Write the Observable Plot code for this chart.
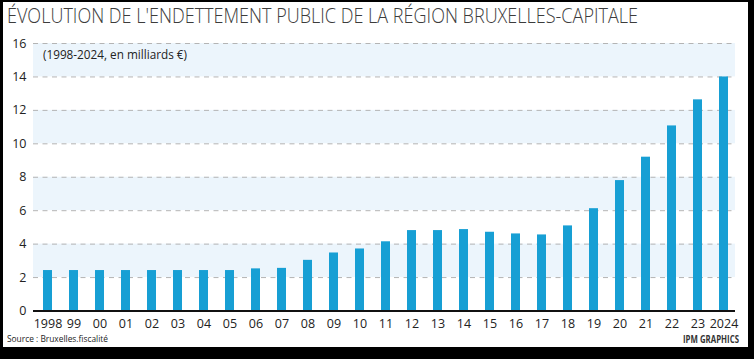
<!DOCTYPE html>
<html>
<head>
<meta charset="utf-8">
<script src="https://cdn.jsdelivr.net/npm/d3@7"></script>
<script src="https://cdn.jsdelivr.net/npm/@observablehq/plot@0.6"></script>
<style>
  html, body { margin: 0; padding: 0; background: #000; }
  #wrap { position: relative; width: 754px; height: 359px; overflow: hidden; background: #000; }
  #paper { position: absolute; left: 3px; top: 2px; width: 745px; height: 345px; background: #fff; }
  #chart { position: absolute; left: 0; top: 0; }
  .txt { position: absolute; white-space: nowrap; line-height: 1; font-family: "Open Sans", sans-serif; transform-origin: 0 0; display: inline-block; }
  #title { left: 7px; top: 4.5px; font-size: 21px; color: #3c3c3c; font-weight: 300; }
  #subtitle { left: 43px; top: 48.8px; font-size: 12px; color: #222; }
  #source { left: 7px; top: 333.5px; font-size: 9.5px; color: #222; }
  #credit { top: 334px; font-size: 10px; color: #333; font-weight: 700; }
</style>
</head>
<body>
<div id="wrap">
  <div id="paper"></div>
  <div id="chart"></div>
  <span class="txt" id="title">ÉVOLUTION DE L'ENDETTEMENT PUBLIC DE LA RÉGION BRUXELLES-CAPITALE</span>
  <span class="txt" id="subtitle">(1998-2024, en milliards €)</span>
  <span class="txt" id="source">Source : Bruxelles.fiscalité</span>
  <span class="txt" id="credit">IPM GRAPHICS</span>
</div>
<script>
const years = [1998, 1999, 2000, 2001, 2002, 2003, 2004, 2005, 2006, 2007, 2008, 2009, 2010, 2011, 2012, 2013, 2014, 2015, 2016, 2017, 2018, 2019, 2020, 2021, 2022, 2023, 2024];
const tickLabels = ["1998", "99", "00", "01", "02", "03", "04", "05", "06", "07", "08", "09", "10", "11", "12", "13", "14", "15", "16", "17", "18", "19", "20", "21", "22", "23", "2024"];
const debt = [2.42, 2.42, 2.42, 2.42, 2.42, 2.42, 2.42, 2.42, 2.52, 2.55, 3.03, 3.47, 3.71, 4.14, 4.81, 4.81, 4.87, 4.71, 4.61, 4.55, 5.09, 6.12, 7.8, 9.2, 11.07, 12.63, 14.0];
const yTicks = [0, 2, 4, 6, 8, 10, 12, 14, 16];
const gridTicks = [2, 4, 6, 8, 10, 12, 14, 16];
const bands = [[2, 4], [6, 8], [10, 12], [14, 16]];

const data = years.map((y, i) => ({year: y, value: debt[i]}));
const labelOf = new Map(years.map((y, i) => [y, tickLabels[i]]));

const chart = Plot.plot({
  width: 754,
  height: 359,
  marginTop: 43,
  marginBottom: 48.5,
  marginLeft: 33,
  marginRight: 19,
  style: {background: "transparent", fontFamily: "'Open Sans', sans-serif", fontSize: "12px", color: "#222"},
  x: {type: "band", domain: years, range: [42.5, 727.5], paddingInner: 0.654, paddingOuter: 0, label: null},
  y: {domain: [0, 16], label: null},
  marks: [
    Plot.rect(bands, {y1: d => d[0], y2: d => d[1], fill: "#ecf5fc"}),
    Plot.ruleY(gridTicks, {stroke: "#b4b4b4", strokeWidth: 1, strokeDasharray: "5,4.5"}),
    Plot.barY(data, {x: "year", y: "value", fill: "#179fd4"}),
    Plot.ruleY([0], {stroke: "#111", strokeWidth: 2}),
    Plot.axisX({tickSize: 0, tickPadding: 8, tickFormat: d => labelOf.get(d), fill: "#222", fontSize: 12.5}),
    Plot.axisY({ticks: yTicks, tickSize: 0, tickPadding: 7, fill: "#222", fontSize: 12.5, label: null})
  ]
});
document.getElementById("chart").appendChild(chart);

function fit(id, width, rightEdge) {
  const el = document.getElementById(id);
  const w = el.getBoundingClientRect().width;
  el.style.transform = `scaleX(${width / w})`;
  if (rightEdge != null) el.style.left = (rightEdge - width) + "px";
}
fit("title", 631);
fit("subtitle", 144);
fit("source", 101);
fit("credit", 56, 739);
</script>
</body>
</html>
